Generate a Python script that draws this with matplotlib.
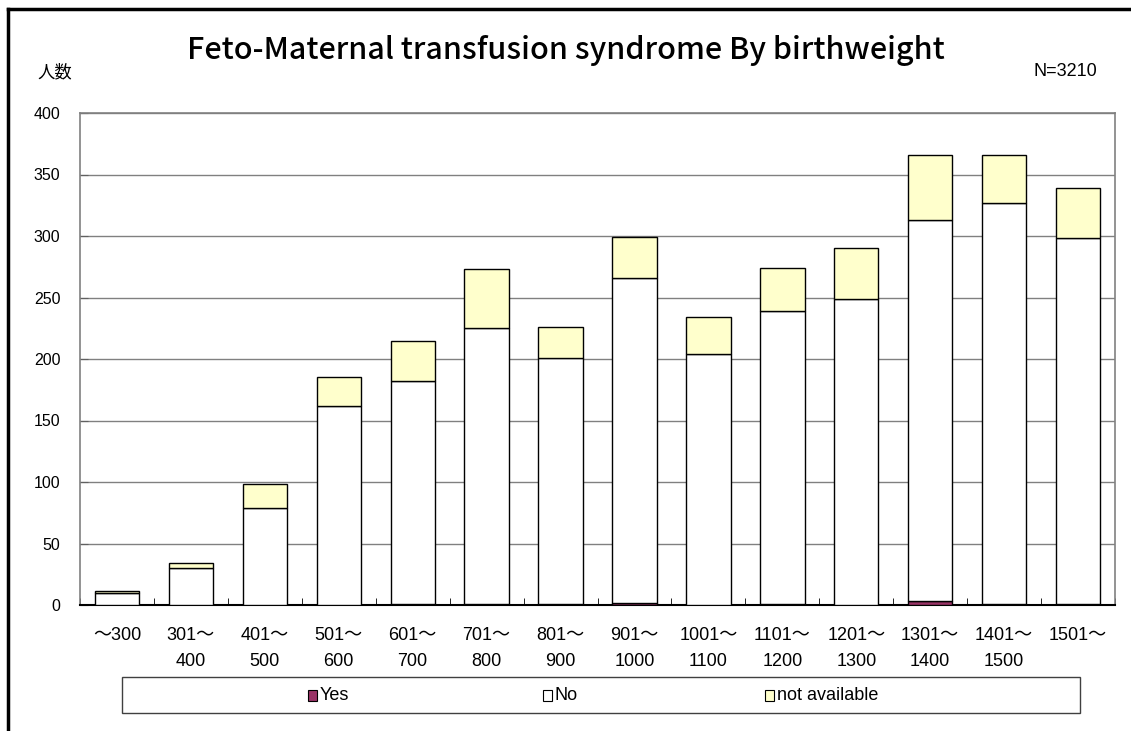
import numpy as np
import matplotlib.pyplot as plt
from matplotlib.patches import Rectangle
from matplotlib.lines import Line2D

# birthweight classes (g)
categories = ["～300", "301～\n400", "401～\n500", "501～\n600", "601～\n700",
              "701～\n800", "801～\n900", "901～\n1000", "1001～\n1100",
              "1101～\n1200", "1201～\n1300", "1301～\n1400", "1401～\n1500",
              "1501～"]

# counts per class
yes = [0, 0, 0, 0, 1, 1, 1, 2, 0, 1, 0, 3, 1, 1]
no = [10, 30, 79, 162, 181, 224, 200, 264, 204, 238, 249, 310, 326, 297]
not_available = [1, 4, 19, 23, 33, 48, 25, 33, 30, 35, 41, 53, 39, 41]

series_names = ["Yes", "No", "not available"]
series_colors = ["#993366", "#FFFFFF", "#FFFFCC"]

label_font = ["Liberation Sans", "Noto Sans CJK JP"]

fig = plt.figure(figsize=(11.31, 7.31), dpi=100)
W, H = 1131, 731

# outer frame (left + top only)
fig.add_artist(Line2D([8 / W, 8 / W], [0, 1 - 9 / H], color="black", lw=2.5,
                      transform=fig.transFigure))
fig.add_artist(Line2D([8 / W, 1], [1 - 9 / H, 1 - 9 / H], color="black", lw=2.5,
                      transform=fig.transFigure))

ax = fig.add_axes([80 / W, 1 - 605 / H, (1115 - 80) / W, (605 - 113) / H])

x = np.arange(len(categories))
width = 0.6
bottom = np.zeros(len(categories))
for vals, name, color in zip([yes, no, not_available], series_names, series_colors):
    ax.bar(x, vals, width, bottom=bottom, color=color, edgecolor="black",
           linewidth=1, label=name, zorder=3)
    bottom += np.array(vals)

ax.set_xlim(-0.5, len(categories) - 0.5)
ax.set_ylim(0, 400)
ax.set_yticks(np.arange(0, 401, 50))
ax.yaxis.grid(True, color="#808080", linewidth=1, zorder=0)
ax.set_axisbelow(True)

ax.set_xticks(x)
ax.set_xticklabels(categories, fontfamily=label_font, fontsize=13, linespacing=1.7)
ax.set_xticks(np.arange(-0.5, len(categories), 1), minor=True)
ax.tick_params(axis="x", which="major", length=0, pad=16)
ax.tick_params(axis="x", which="minor", direction="in", length=5, color="black")
ax.tick_params(axis="y", direction="in", length=6, color="#606060", pad=14)
for lab in ax.get_yticklabels():
    lab.set_fontfamily(label_font)
    lab.set_fontsize(11.5)

for side in ["left", "top", "right"]:
    ax.spines[side].set_color("#808080")
    ax.spines[side].set_linewidth(1.2)
ax.spines["bottom"].set_color("black")
ax.spines["bottom"].set_linewidth(1.5)

# titles
fig.text(566 / W, 1 - 51 / H, "Feto-Maternal transfusion syndrome By birthweight",
         ha="center", va="center", fontsize=22, fontweight="medium",
         fontfamily="Noto Sans CJK JP")
fig.text(37 / W, 1 - 72 / H, "人数", ha="left", va="center", fontsize=12.5,
         fontfamily="Noto Sans CJK JP")
fig.text(1097 / W, 1 - 71 / H, "N=3210", ha="right", va="center", fontsize=13,
         fontfamily=label_font)

# legend box
fig.add_artist(Rectangle((122 / W, 1 - 713 / H), (1080 - 122) / W, 36 / H,
                         transform=fig.transFigure, facecolor="white",
                         edgecolor="#404040", linewidth=1))
legend_x = [320, 555, 777]
for lx, name, color in zip(legend_x, series_names, series_colors):
    fig.add_artist(Rectangle(((lx - 12) / W, 1 - 701 / H), 9 / W, 11 / H,
                             transform=fig.transFigure, facecolor=color,
                             edgecolor="black", linewidth=0.8))
    fig.text(lx / W, 1 - 695 / H, name, ha="left", va="center", fontsize=13,
             fontfamily=label_font)

fig.savefig("out.png", dpi=100)
